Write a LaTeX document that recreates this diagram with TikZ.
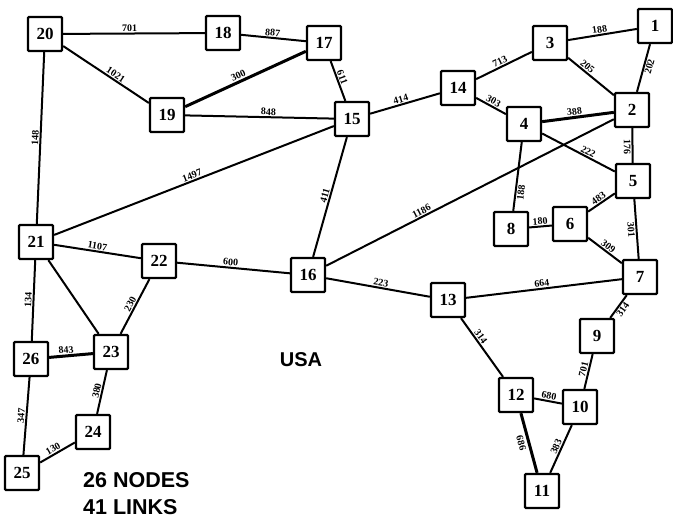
\documentclass[tikz,border=0pt]{standalone}
\usepackage{fontspec}
\setmainfont{Liberation Serif}
\setsansfont{Liberation Sans}
\tikzset{
  box/.style={draw=black,line width=2.3pt,minimum size=34pt,inner sep=0pt,rounded corners=1pt,fill=white,font=\fontsize{17}{17}\selectfont\bfseries},
  lnk/.style={draw=black,line width=2pt},
  hvy/.style={draw=black,line width=3pt},
  lab/.style={sloped,above=1pt,inner sep=0pt,font=\fontsize{10}{10}\selectfont\bfseries},
  labb/.style={sloped,below=1pt,inner sep=0pt,font=\fontsize{10}{10}\selectfont\bfseries},
  title/.style={anchor=west,inner sep=0pt,font=\fontsize{21.5}{21.5}\selectfont\sffamily\bfseries},
}
\begin{document}
\begin{tikzpicture}[x=1pt,y=-1pt]
\useasboundingbox (0,0) rectangle (673,520);
\node[box] (n1) at (655,26) {1};
\node[box] (n2) at (632,110) {2};
\node[box] (n3) at (550,43) {3};
\node[box] (n4) at (524,124) {4};
\node[box] (n5) at (633,181) {5};
\node[box] (n6) at (570,224) {6};
\node[box] (n7) at (640,277) {7};
\node[box] (n8) at (511,229) {8};
\node[box] (n9) at (597,336) {9};
\node[box] (n10) at (580,407) {10};
\node[box] (n11) at (542,491) {11};
\node[box] (n12) at (516,395) {12};
\node[box] (n13) at (448,300) {13};
\node[box] (n14) at (458,88) {14};
\node[box] (n15) at (352,119) {15};
\node[box] (n16) at (308,275) {16};
\node[box] (n17) at (324,43) {17};
\node[box] (n18) at (223,33) {18};
\node[box] (n19) at (167,115) {19};
\node[box] (n20) at (45,34) {20};
\node[box] (n21) at (36,242) {21};
\node[box] (n22) at (159,261) {22};
\node[box] (n23) at (111,352) {23};
\node[box] (n24) at (93,432) {24};
\node[box] (n25) at (22,473) {25};
\node[box] (n26) at (31,359) {26};
\draw[lnk] (n20) -- node[lab,pos=.47]{701} (n18);
\draw[lnk] (n18) -- node[lab,pos=.48]{887} (n17);
\draw[lnk] (n20) -- node[lab,pos=.58]{1021} (n19);
\draw[hvy] (n19) -- node[lab,pos=.46]{300} (n17);
\draw[lnk] (n19) -- node[lab,pos=.56]{848} (n15);
\draw[lnk] (n17) -- node[lab,pos=.45]{611} (n15);
\draw[lnk] (n15) -- node[lab,pos=.46]{414} (n14);
\draw[lnk] (n14) -- node[lab,pos=.47]{713} (n3);
\draw[lnk] (n3) -- node[lab,pos=.47]{188} (n1);
\draw[lnk] (n3) -- node[lab,pos=.35]{205} (n2);
\draw[lnk] (n1) -- node[labb,pos=.44]{202} (n2);
\draw[lnk] (n14) -- node[lab,pos=.5]{303} (n4);
\draw[hvy] (n4) -- node[lab,pos=.46]{388} (n2);
\draw[lnk] (n4) -- node[lab,pos=.6]{222} (n5);
\draw[lnk] (n4) -- node[labb,pos=.72]{188} (n8);
\draw[lnk] (n2) -- node[labb,pos=.55]{176} (n5);
\draw[lnk] (n2) -- node[lab,pos=.66]{1186} (n16);
\draw[lnk] (n5) -- node[lab,pos=.5]{483} (n6);
\draw[lnk] (n5) -- node[labb,pos=.5]{301} (n7);
\draw[lnk] (n8) -- node[lab,pos=.5]{180} (n6);
\draw[lnk] (n6) -- node[lab,pos=.5]{309} (n7);
\draw[lnk] (n13) -- node[lab,pos=.49]{664} (n7);
\draw[lnk] (n7) -- node[labb,pos=.5]{314} (n9);
\draw[lnk] (n9) -- node[lab,pos=.47]{701} (n10);
\draw[lnk] (n12) -- node[lab,pos=.5]{680} (n10);
\draw[lnk] (n10) -- node[lab,pos=.5]{383} (n11);
\draw[hvy] (n12) -- node[labb,pos=.47,below=1.6pt]{686} (n11);
\draw[lnk] (n13) -- node[lab,pos=.37]{314} (n12);
\draw[lnk] (n16) -- node[lab,pos=.52]{223} (n13);
\draw[lnk] (n22) -- node[lab,pos=.47]{600} (n16);
\draw[lnk] (n15) -- node[lab,pos=.5]{411} (n16);
\draw[lnk] (n21) -- node[lab,pos=.5]{1497} (n15);
\draw[lnk] (n21) -- node[lab,pos=.49]{1107} (n22);
\draw[lnk] (n21) -- (n23);
\draw[lnk] (n22) -- node[lab,pos=.5]{230} (n23);
\draw[lnk] (n21) -- node[lab,pos=.5]{134} (n26);
\draw[hvy] (n26) -- node[lab,pos=.4]{843} (n23);
\draw[lnk] (n23) -- node[lab,pos=.5]{380} (n24);
\draw[lnk] (n25) -- node[lab,pos=.45]{130} (n24);
\draw[lnk] (n26) -- node[lab,pos=.5]{347} (n25);
\draw[lnk] (n20) -- node[lab,pos=.5]{148} (n21);
\node[font=\fontsize{20}{20}\selectfont\sffamily\bfseries,inner sep=0pt] (usa) at (301,360) {USA};
\node[title] (nodes) at (83,480) {26 NODES};
\node[title] (links) at (83,507) {41 LINKS};
\end{tikzpicture}
\end{document}
